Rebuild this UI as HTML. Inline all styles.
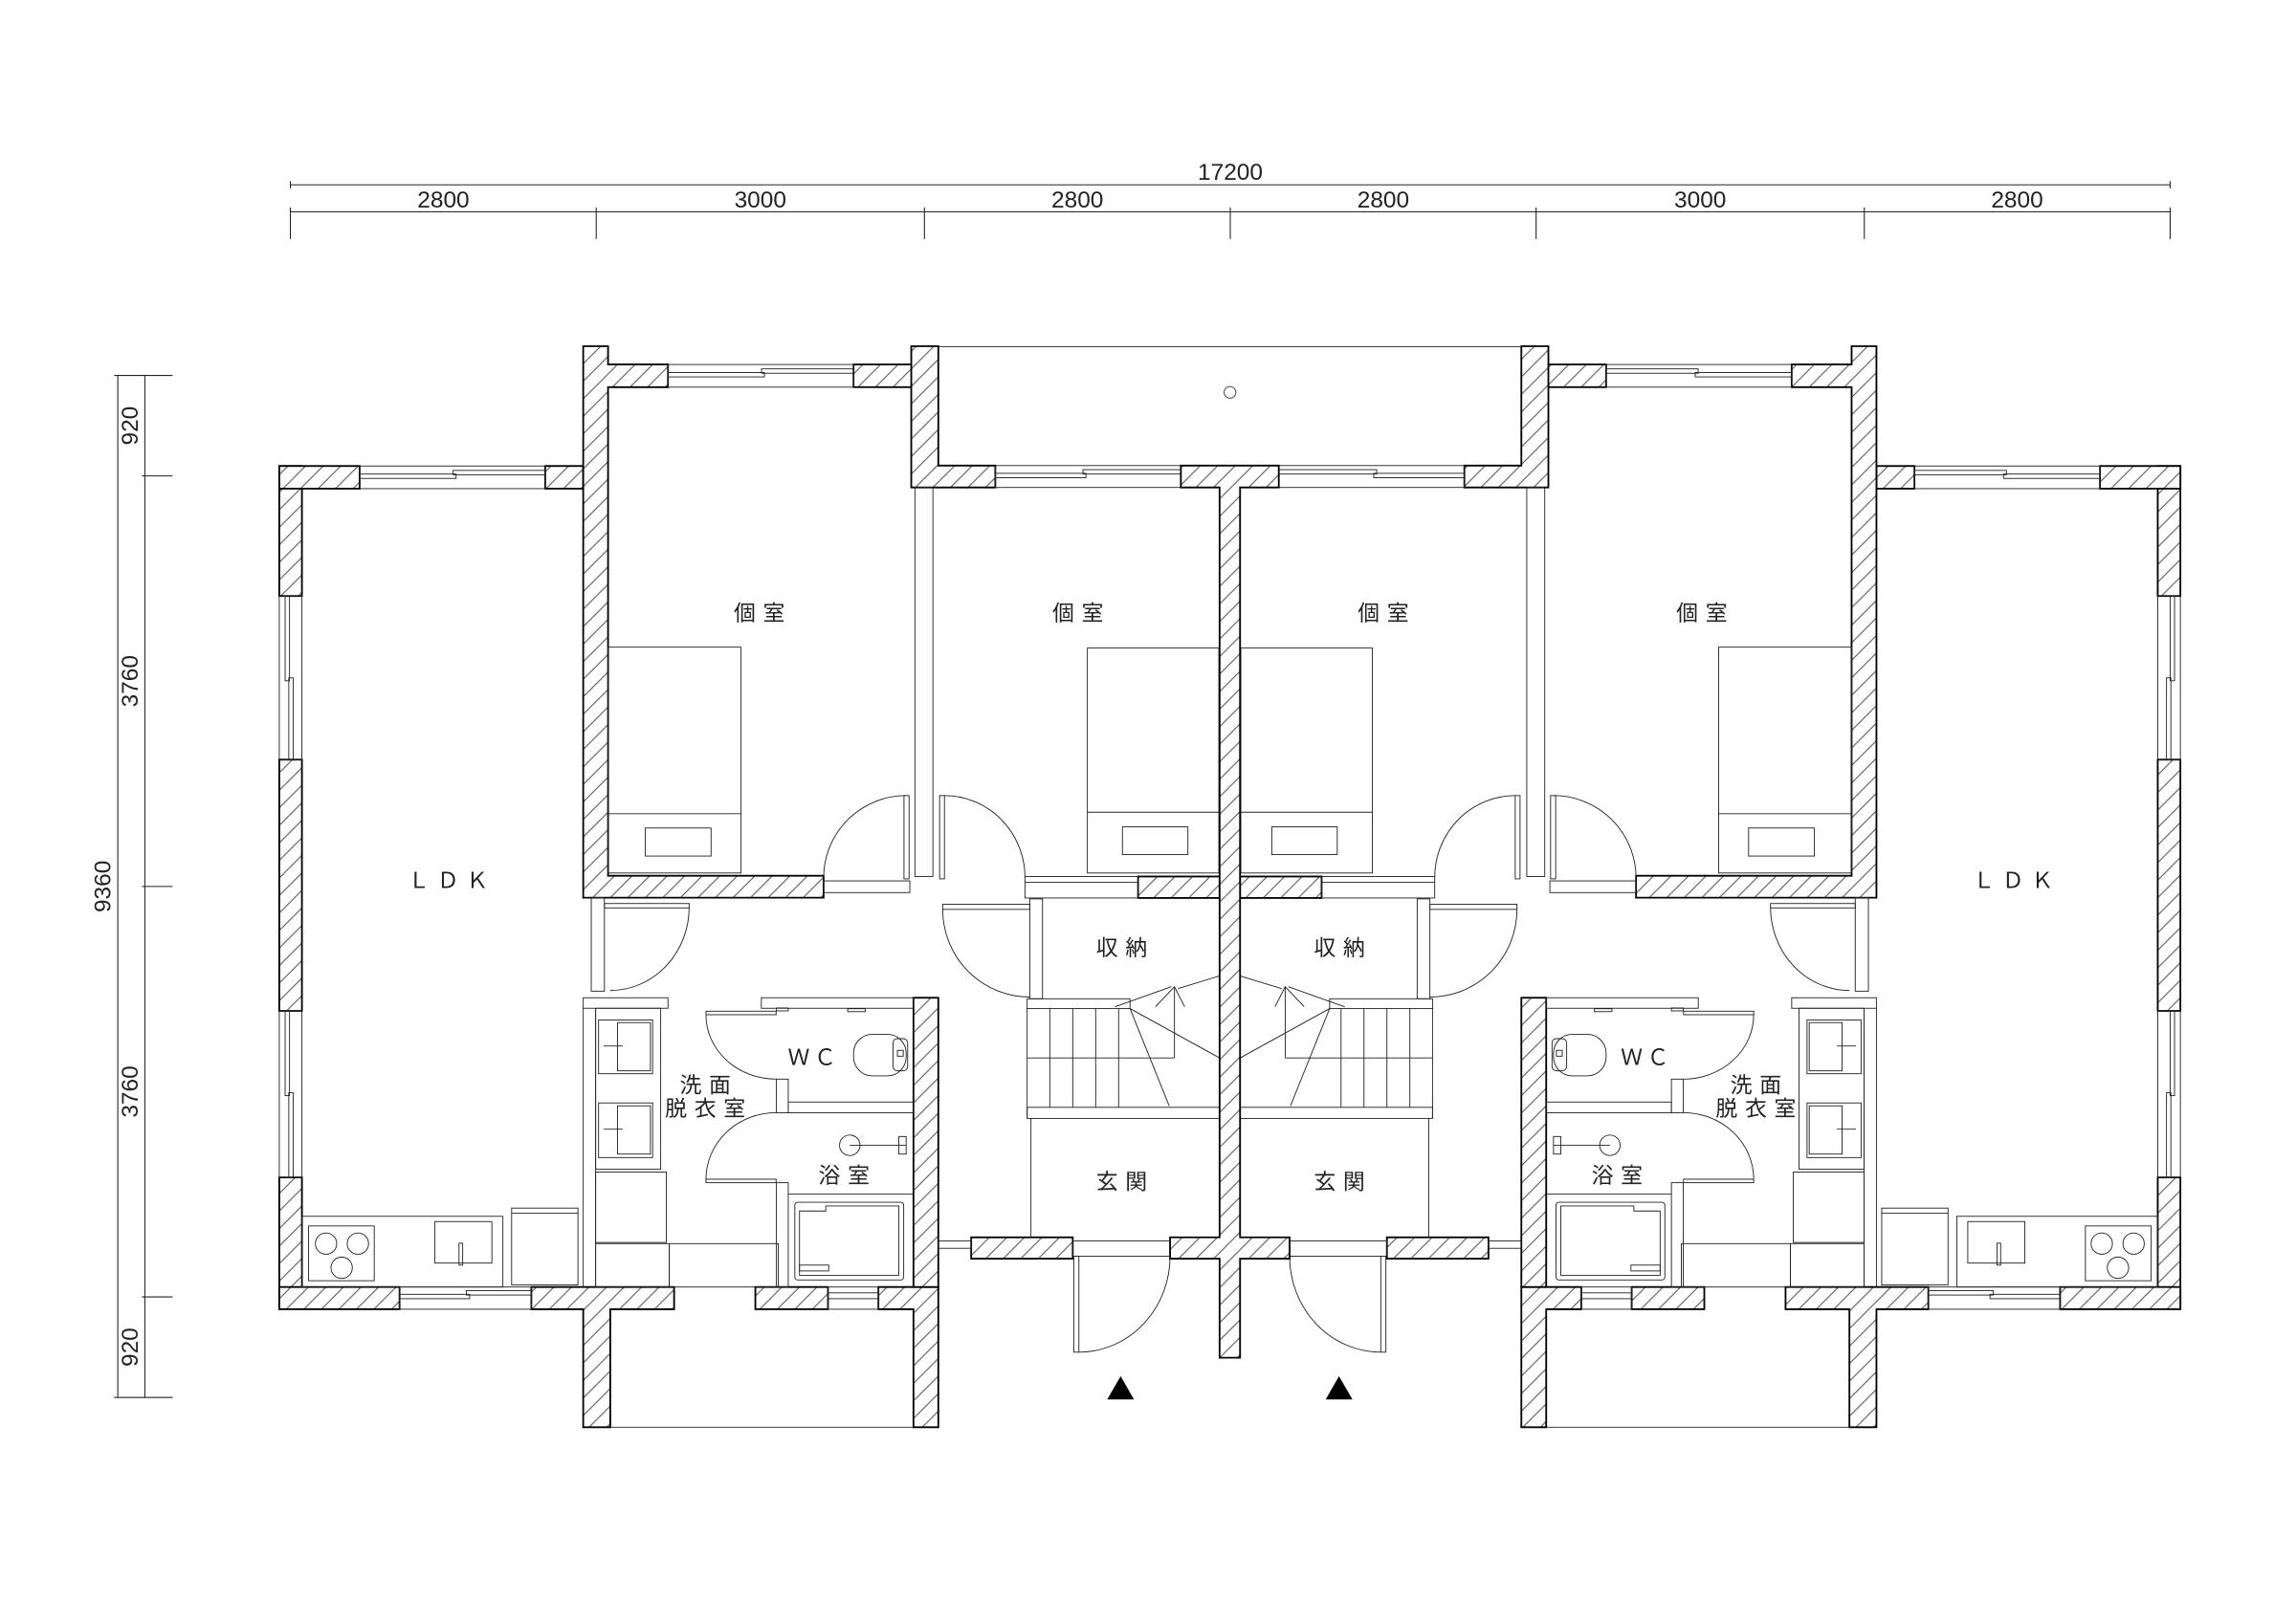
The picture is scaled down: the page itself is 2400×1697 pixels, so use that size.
<!DOCTYPE html>
<html><head><meta charset="utf-8"><style>
html,body{margin:0;padding:0;background:#fff;}
svg{display:block;}
text{font-family:"Liberation Sans","Noto Sans CJK JP",sans-serif;fill:#222;}
.dim{font-family:"Liberation Sans Narrow","Liberation Sans",sans-serif;font-size:16px;fill:#111;}
.lab{font-size:15px;letter-spacing:5px;fill:#333;}
.wc{font-size:15px;letter-spacing:3px;fill:#333;}
</style></head><body>
<svg width="2400" height="1697" viewBox="0 0 1571 1111" xmlns="http://www.w3.org/2000/svg">
<defs>
<pattern id="h1" patternUnits="userSpaceOnUse" width="12" height="12">
<rect width="12" height="12" fill="#fff"/>
<path d="M-3,3 L3,-3 M0,12 L12,0 M9,15 L15,9" stroke="#555" stroke-width="0.7"/>
</pattern>
<pattern id="h2" patternUnits="userSpaceOnUse" width="12" height="12">
<rect width="12" height="12" fill="#fff"/>
<path d="M-3,9 L3,15 M0,0 L12,12 M9,-3 L15,3" stroke="#555" stroke-width="0.7"/>
</pattern>
<g id="L">
 <g stroke="#000" stroke-width="1.2">
  <rect x="191" y="319" width="15.5" height="89"/>
  <rect x="191" y="520" width="15.5" height="172"/>
  <rect x="191" y="806" width="15.5" height="90"/>
  <rect x="191" y="319" width="55" height="15.5"/>
  <rect x="373" y="319" width="26" height="15.5"/>
  <path d="M399,237 H416 V249.5 H457 V265 H416 V599.5 H563.5 V614.5 H399 Z"/>
  <rect x="584" y="249.5" width="40" height="15.5"/>
  <path d="M623.5,237 H642 V318.7 H681 V333.7 H623.5 Z"/>
  <rect x="778.7" y="600" width="55.8" height="14.7"/>
  <rect x="664.5" y="847" width="69.5" height="14.6"/>
  <rect x="191" y="881" width="82.3" height="15.2"/>
  <path d="M363.5,881 H461.2 V896.2 H417.5 V977 H399 V896.2 H363.5 Z"/>
  <rect x="516.8" y="881" width="49.7" height="15.2"/>
  <path d="M601,881 H642 V977 H625 V896.2 H601 Z"/>
  <rect x="625" y="683" width="17" height="198"/>
 </g>
 <g fill="none" stroke="#222" stroke-width="0.6">
  <rect x="191" y="408" width="15.5" height="112"/><rect x="195" y="408" width="3" height="58"/><rect x="197.5" y="464" width="3" height="56"/>
  <rect x="191" y="692" width="15.5" height="114"/><rect x="195" y="692" width="3" height="58"/><rect x="197.5" y="748" width="3" height="58"/>
  <rect x="246" y="319" width="127" height="15.5"/><rect x="246" y="324.5" width="66" height="3"/><rect x="310" y="322" width="63" height="3"/>
  <rect x="457" y="249.5" width="127" height="15.5"/><rect x="457" y="255" width="66" height="3"/><rect x="521" y="252.5" width="63" height="3"/>
  <rect x="681" y="318.7" width="127" height="15"/><rect x="681" y="324" width="62" height="3"/><rect x="741" y="321.5" width="67" height="3"/>
  <rect x="273.3" y="881" width="90.2" height="15.2"/><rect x="273.3" y="886" width="48" height="3"/><rect x="319" y="883.5" width="44.5" height="3"/>
  <rect x="566.5" y="881" width="34.5" height="15.2"/><rect x="566.5" y="885" width="34.5" height="4"/>
  <rect x="642" y="849.5" width="22.5" height="5"/>
  <line x1="642" y1="237.3" x2="841.5" y2="237.3"/>
  <line x1="417.5" y1="977" x2="625" y2="977"/>
  <rect x="626" y="333.7" width="12.3" height="266.3"/>
  <rect x="563.5" y="603" width="59" height="8"/>
  <rect x="618.5" y="544.6" width="3.5" height="57"/>
  <path d="M620,544.6 A56.5,56.5 0 0 0 563.5,601"/>
  <rect x="642.9" y="544.6" width="3.3" height="57"/>
  <path d="M646,544.6 A55.3,56 0 0 1 701.3,600.6"/>
  <rect x="701.3" y="600" width="77.4" height="14.7"/><line x1="701.3" y1="604" x2="778.7" y2="604"/>
  <rect x="416" y="443" width="91" height="154.6"/><line x1="416" y1="557" x2="507" y2="557"/>
  <rect x="441.5" y="566.8" width="45" height="19.2"/>
  <rect x="744" y="443.6" width="90" height="154"/><line x1="744" y1="556" x2="834" y2="556"/>
  <rect x="768" y="566" width="44.8" height="19"/>
  <rect x="404.5" y="614.5" width="9" height="64"/>
  <rect x="413.5" y="618.5" width="58" height="3"/>
  <path d="M471.5,621 A54,57 0 0 1 417.5,678"/>
  <rect x="704.6" y="615.3" width="8.7" height="68.4"/>
  <rect x="645" y="619" width="59.6" height="3.5"/>
  <path d="M645,622.5 A59.6,60 0 0 0 704.6,682.5"/>
  <rect x="702.8" y="683.7" width="70.4" height="6.7"/>
  <line x1="702.8" y1="690.4" x2="702.8" y2="765.6"/>
  <line x1="718.3" y1="690.4" x2="718.3" y2="758"/><line x1="734" y1="690.4" x2="734" y2="758"/>
  <line x1="749.7" y1="690.4" x2="749.7" y2="758"/><line x1="765.4" y1="690.4" x2="765.4" y2="758"/>
  <line x1="702.8" y1="724.2" x2="803.6" y2="724.2"/>
  <rect x="702.8" y="758" width="131.7" height="7.6"/>
  <polyline points="762.9,689.2 801.5,675.4"/><polyline points="806,676.7 841.5,665.9"/>
  <polyline points="790.6,689.2 803.6,675.4 810.6,689.2"/>
  <line x1="803.6" y1="675.4" x2="803.6" y2="724.2"/>
  <line x1="773.2" y1="690.4" x2="834.5" y2="724.2"/><line x1="773.2" y1="690.4" x2="800" y2="757"/>
  <line x1="705.4" y1="765.6" x2="705.4" y2="847"/>
  <rect x="734.7" y="859.9" width="3.5" height="65.7"/>
  <path d="M738.2,925.6 A62.4,65.7 0 0 0 800.6,859.9"/>
  <rect x="734" y="849.5" width="66.6" height="10.4"/>
  <rect x="399" y="683" width="58" height="7.2"/>
  <rect x="520.9" y="683" width="104.1" height="7.2"/>
  <line x1="399" y1="690" x2="399" y2="881"/><line x1="407.5" y1="690" x2="407.5" y2="881"/>
  <rect x="407.5" y="690.2" width="44.5" height="110.2"/>
  <rect x="409.5" y="698.2" width="37" height="36.8"/><rect x="422.5" y="700" width="22.5" height="33"/>
  <rect x="409.5" y="755" width="37" height="37.4"/><rect x="422.5" y="757" width="22.5" height="33"/>
  <line x1="413" y1="716" x2="426" y2="716"/><line x1="413" y1="773" x2="426" y2="773"/>
  <rect x="407.5" y="802.3" width="48.4" height="48.2"/>
  <rect x="407.5" y="851.3" width="50.4" height="29.7"/>
  <rect x="457.9" y="851.3" width="74.6" height="29.7"/>
  <rect x="531.2" y="690" width="8.1" height="2"/>
  <rect x="531.2" y="738.7" width="8.1" height="23"/>
  <rect x="531.2" y="809.6" width="8.1" height="71.4"/>
  <rect x="539.3" y="754.4" width="85.7" height="7.3"/>
  <line x1="539.3" y1="817.4" x2="625" y2="817.4"/>
  <rect x="483" y="692.2" width="48" height="2.4"/>
  <path d="M483,694.6 A48,44 0 0 0 531,738.7"/>
  <rect x="483" y="807.2" width="48" height="2.4"/>
  <path d="M531,761.7 A48,45.5 0 0 0 483,807.2"/>
  <rect x="584" y="708" width="36" height="28.5" rx="13"/>
  <rect x="611" y="711" width="10" height="22" rx="3"/>
  <rect x="614" y="719" width="4" height="4"/>
  <rect x="580" y="690.5" width="12" height="2"/>
  <circle cx="581.4" cy="784" r="7"/><line x1="581.4" y1="784" x2="620" y2="784"/>
  <rect x="615" y="778" width="5" height="12"/>
  <rect x="543.8" y="823" width="74.5" height="53.2" rx="2"/>
  <path d="M547,829 H565 V825.5 H615 V873 H547 Z"/>
  <rect x="547" y="866" width="20" height="4"/>
  <rect x="206.5" y="832.6" width="137.5" height="48.4"/>
  <rect x="211" y="839.2" width="45" height="37.5"/>
  <circle cx="223" cy="851.3" r="7.3"/><circle cx="244.8" cy="851.3" r="7.3"/><circle cx="233.7" cy="867.8" r="7.3"/>
  <rect x="297.5" y="836.2" width="39" height="28.4"/>
  <rect x="314" y="851" width="2.5" height="15"/>
  <rect x="350" y="827" width="45.4" height="52.6"/><line x1="350" y1="830.5" x2="395.4" y2="830.5"/>
 </g>
 <polygon points="757.6,958 775.9,958 766.8,942" fill="#000"/>
</g>
</defs>
<rect width="1571" height="1111" fill="#fff"/>

<g stroke="#222" stroke-width="0.7" fill="none">
 <line x1="198.6" y1="126.5" x2="1485" y2="126.5"/>
 <line x1="198.6" y1="124" x2="198.6" y2="129"/><line x1="1485" y1="124" x2="1485" y2="129"/>
 <line x1="198.6" y1="145" x2="1485" y2="145"/>
 <line x1="198.6" y1="142" x2="198.6" y2="163.6"/><line x1="407.9" y1="142" x2="407.9" y2="163.6"/>
 <line x1="632.5" y1="142" x2="632.5" y2="163.6"/><line x1="841.8" y1="142" x2="841.8" y2="163.6"/>
 <line x1="1051.1" y1="142" x2="1051.1" y2="163.6"/><line x1="1275.7" y1="142" x2="1275.7" y2="163.6"/>
 <line x1="1485" y1="142" x2="1485" y2="163.6"/>
 <line x1="80.5" y1="257" x2="80.5" y2="956.6"/>
 <line x1="99" y1="257" x2="99" y2="956.6"/>
 <line x1="78" y1="257" x2="118" y2="257"/><line x1="78" y1="956.6" x2="118" y2="956.6"/>
 <line x1="97" y1="325.8" x2="118" y2="325.8"/><line x1="97" y1="606.8" x2="118" y2="606.8"/>
 <line x1="97" y1="887.8" x2="118" y2="887.8"/>
</g>
<g class="dim" text-anchor="middle">
 <text x="841.8" y="123">17200</text>
 <text x="303.3" y="142">2800</text><text x="520.2" y="142">3000</text><text x="737.2" y="142">2800</text>
 <text x="946.5" y="142">2800</text><text x="1163.4" y="142">3000</text><text x="1380.3" y="142">2800</text>
 <text x="88.5" y="291.4" transform="rotate(-90 88.5 291.4)" dy="5.5">920</text>
 <text x="88.5" y="466.3" transform="rotate(-90 88.5 466.3)" dy="5.5">3760</text>
 <text x="70" y="606.8" transform="rotate(-90 70 606.8)" dy="5.5">9360</text>
 <text x="88.5" y="747.3" transform="rotate(-90 88.5 747.3)" dy="5.5">3760</text>
 <text x="88.5" y="922.2" transform="rotate(-90 88.5 922.2)" dy="5.5">920</text>
</g>

<use href="#L" fill="url(#h1)"/>
<use href="#L" fill="url(#h2)" transform="translate(1683,0) scale(-1,1)"/>

<path d="M808,318.7 H875 V333.7 H848.5 V847 H882.4 V861.6 H848.5 V929.4 H834.5 V861.6 H800.6 V847 H834.5 V333.7 H808 Z" fill="url(#h1)" stroke="#000" stroke-width="1.2"/>
<circle cx="841.6" cy="268.6" r="4" fill="none" stroke="#333" stroke-width="0.6"/>

<g class="lab" text-anchor="middle">
 <text x="522" y="425">個室</text><text x="740" y="425">個室</text>
 <text x="949" y="425">個室</text><text x="1167" y="425">個室</text>
 <text x="309" y="608">ＬＤＫ</text><text x="1380" y="608">ＬＤＫ</text>
 <text x="770" y="654">収納</text><text x="919" y="654">収納</text>
 <text x="770" y="814">玄関</text><text x="919" y="814">玄関</text>
 <text x="485" y="748">洗面</text><text x="485" y="764">脱衣室</text>
 <text x="1204" y="748">洗面</text><text x="1204" y="764">脱衣室</text>
 <text x="580" y="810">浴室</text><text x="1109" y="810">浴室</text>
</g>
<g class="wc" text-anchor="middle">
 <text x="557" y="729">ＷＣ</text><text x="1127" y="729">ＷＣ</text>
</g>
</svg>
</body></html>
